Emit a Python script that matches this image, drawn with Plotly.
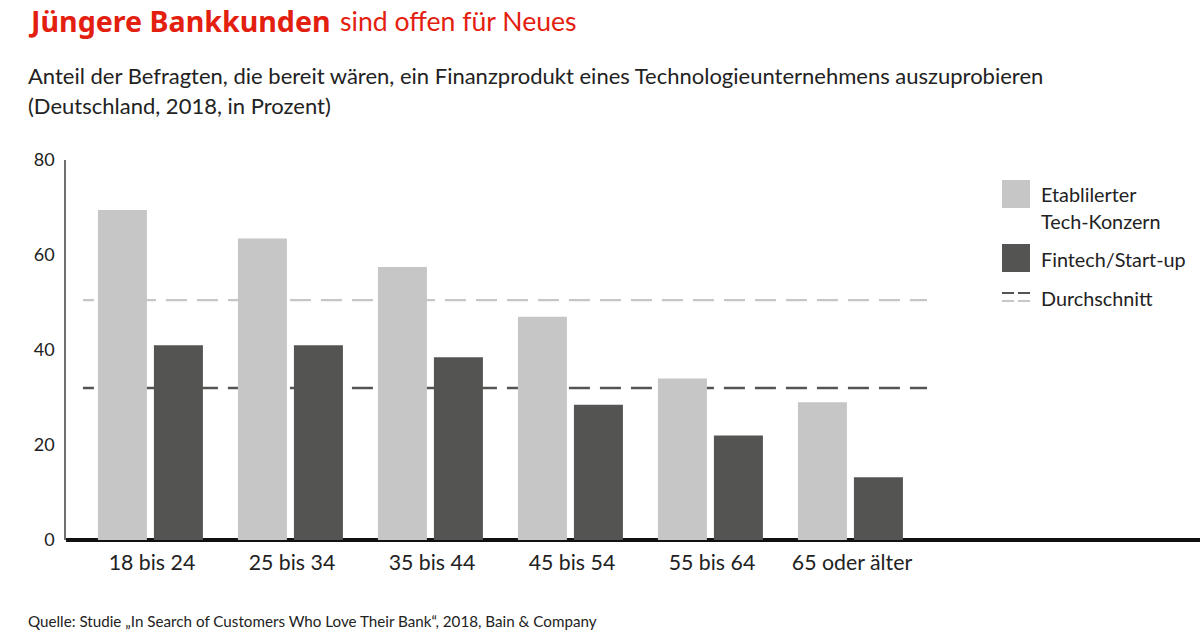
import plotly.graph_objects as go

categories = ["18 bis 24", "25 bis 34", "35 bis 44", "45 bis 54", "55 bis 64", "65 oder älter"]
etabliert = [69.5, 63.5, 57.5, 47, 34, 29]
fintech = [41, 41, 38.5, 28.5, 22, 13.2]
avg_etabliert = 50.5
avg_fintech = 32
y_ticks = [0, 20, 40, 60, 80]
LIGHT = "#c6c6c6"
DARK = "#545452"
FONT = "Lato, Open Sans, sans-serif"
BOLD_FONT = "Noto Sans, Open Sans, sans-serif"

idx = list(range(len(categories)))
W, H = 1200, 636
fig = go.Figure()
fig.add_bar(x=idx, y=etabliert, name="Etablilerter Tech-Konzern", marker_color=LIGHT, marker_line_width=0, offset=-0.386, width=0.35, showlegend=False)
fig.add_bar(x=idx, y=fintech, name="Fintech/Start-up", marker_color=DARK, marker_line_width=0, offset=0.014, width=0.35, showlegend=False)

ax0, ax1, ay0, ay1 = 66, 1200, 540, 160
def px(x): return (x-ax0)/(ax1-ax0)
def py(y): return (ay0-y)/(ay0-ay1)

# Average lines sit beneath the bars; the first dash is a partial one, as in the reference
avg_dash = ",".join(["11px", "10px"] + ["21px", "10px"] * 28)
shapes = [
    dict(type="line", xref="x", yref="y", layer="below", x0=-0.493, x1=5.536, y0=v, y1=v, line=dict(color=c, width=2.4, dash=avg_dash))
    for v, c in ((avg_etabliert, LIGHT), (avg_fintech, DARK))
]
shapes += [
    dict(type="rect", xref="paper", yref="paper", x0=px(1002), x1=px(1030), y0=py(208), y1=py(180), fillcolor=LIGHT, line_width=0),
    dict(type="rect", xref="paper", yref="paper", x0=px(1002), x1=px(1030), y0=py(272), y1=py(244), fillcolor=DARK, line_width=0),
    dict(type="line", xref="paper", yref="paper", x0=px(1002), x1=px(1030), y0=py(293), y1=py(293), line=dict(color=DARK, width=2, dash="12px,4px")),
    dict(type="line", xref="paper", yref="paper", x0=px(1002), x1=px(1030), y0=py(301), y1=py(301), line=dict(color=LIGHT, width=2, dash="12px,4px")),
]
def txt(x, y, s, size=18, color="#222222", family=FONT):
    return dict(x=px(x), y=py(y), xref="paper", yref="paper", text=s, showarrow=False, xanchor="left", yanchor="middle", align="left", xshift=-2, font=dict(size=size, color=color, family=family))
annotations = [
    txt(28, 20.5, "<b>Jüngere Bankkunden</b>", 28.6, "#e3200f", BOLD_FONT),
    txt(340, 21, "sind offen für Neues", 26.6, "#e3200f"),
    txt(28, 76, "Anteil der Befragten, die bereit wären, ein Finanzprodukt eines Technologieunternehmens auszuprobieren", 22),
    txt(28, 105, "(Deutschland, 2018, in Prozent)", 22),
    txt(1041, 194, "Etablilerter", 19.8),
    txt(1041, 221, "Tech-Konzern", 19.8),
    txt(1041, 259, "Fintech/Start-up", 19.8),
    txt(1041, 298, "Durchschnitt", 19.8),
    txt(28, 621, "Quelle: Studie „In Search of Customers Who Love Their Bank“, 2018, Bain &amp; Company", 15.2),
]
fig.update_layout(
    width=W, height=H, autosize=False, paper_bgcolor="white", plot_bgcolor="white",
    margin=dict(l=ax0, r=W-ax1, t=ay1, b=H-ay0), barmode="overlay",
    font=dict(family=FONT, size=18, color="#222222"),
    shapes=shapes, annotations=annotations,
    xaxis=dict(range=[-0.614, 7.486], tickvals=idx, ticktext=categories, showgrid=False, ticks="", zeroline=False, tickfont=dict(size=21.3), showline=False, ticklabelstandoff=8),
    yaxis=dict(range=[0, 80], tickvals=y_ticks, showgrid=False, showline=True, linecolor="#707070", linewidth=1.5, ticks="", zeroline=True, zerolinecolor="#111111", zerolinewidth=3.5, tickfont=dict(size=18), ticklabelstandoff=6),
)
fig.write_html("out.html", config={"displayModeBar": False}, post_script="document.body.style.margin='0';")
